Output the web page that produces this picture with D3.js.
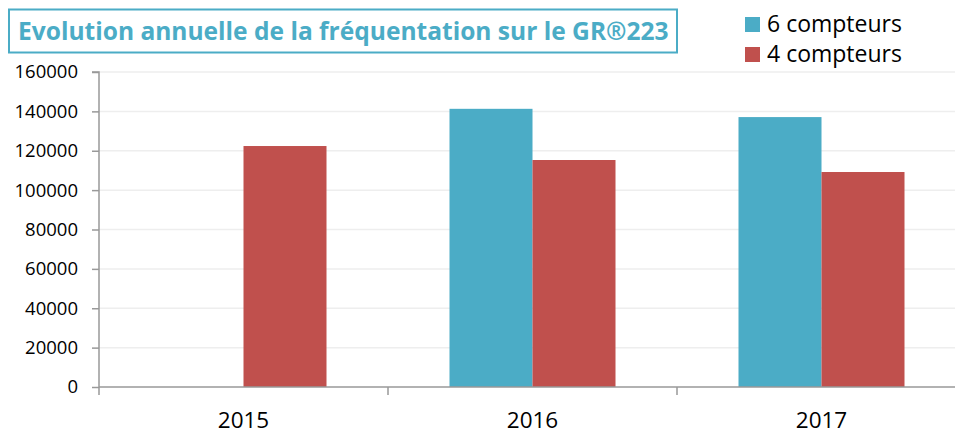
<!DOCTYPE html>
<html lang="fr">
<head>
<meta charset="utf-8">
<title>Evolution annuelle de la fréquentation sur le GR®223</title>
<script src="https://d3js.org/d3.v7.min.js"></script>
<style>
  body { margin: 0; background: #fff; }
  svg { display: block; font-family: "Open Sans", sans-serif; }
</style>
</head>
<body>
<div id="chart"></div>
<script>
// data
const years = ["2015", "2016", "2017"];
const seriesNames = ["6 compteurs", "4 compteurs"];
const sixCounters = [null, 141300, 137100];
const fourCounters = [122400, 115300, 109200];
const yTicks = [0, 20000, 40000, 60000, 80000, 100000, 120000, 140000, 160000];
const colors = ["#4bacc6", "#c0504d"];
const title = "Evolution annuelle de la fréquentation sur le GR®223";

const width = 955, height = 435;
const plotLeft = 99, plotRight = 966, plotTop = 72, plotBottom = 387;

const svg = d3.select("#chart").append("svg")
  .attr("width", width).attr("height", height);

// shrink/grow the font so a text fits a given width
function fitWidth(text, w) {
  const fs = parseFloat(text.attr("font-size"));
  const len = text.node().getComputedTextLength();
  text.attr("font-size", fs * w / len);
}

const x = d3.scaleBand().domain(years).range([plotLeft, plotRight])
  .paddingInner(123 / 289).paddingOuter(61.5 / 289);
const xSub = d3.scaleBand().domain(seriesNames).range([0, x.bandwidth()]);
const y = d3.scaleLinear().domain([0, 160000]).range([plotBottom, plotTop]);

// gridlines
svg.append("g").selectAll("line")
  .data(yTicks.slice(1)).join("line")
  .attr("x1", plotLeft).attr("x2", width)
  .attr("y1", d => y(d)).attr("y2", d => y(d))
  .attr("stroke", "#eeeeee").attr("stroke-width", 1.5);

// bars
const rows = years.map((yr, i) => ({ year: yr, values: [sixCounters[i], fourCounters[i]] }));
const grp = svg.append("g").selectAll("g")
  .data(rows).join("g")
  .attr("transform", d => `translate(${x(d.year)},0)`);
grp.selectAll("rect")
  .data(d => d.values.map((v, i) => ({ v, s: seriesNames[i], c: colors[i] })).filter(d => d.v != null))
  .join("rect")
  .attr("x", d => xSub(d.s))
  .attr("width", xSub.bandwidth())
  .attr("y", d => y(d.v))
  .attr("height", d => y(0) - y(d.v))
  .attr("fill", d => d.c);

// y axis
const yAxis = svg.append("g")
  .attr("transform", `translate(${plotLeft},0)`)
  .call(d3.axisLeft(y).tickValues(yTicks).tickFormat(d3.format("d")).tickSize(7).tickPadding(14));
yAxis.select(".domain").attr("stroke", "#999").attr("stroke-width", 1.5).attr("d", `M-7,${plotTop}H0V${plotBottom}`);
yAxis.selectAll(".tick line").attr("stroke", "#999").attr("stroke-width", 1.5);
yAxis.selectAll("text").attr("font-size", 18.5).attr("fill", "#000")
  .attr("font-family", "'Open Sans', sans-serif");

// x axis
const xAxis = svg.append("g")
  .attr("transform", `translate(0,${plotBottom})`);
xAxis.append("line").attr("x1", plotLeft).attr("x2", width)
  .attr("stroke", "#999").attr("stroke-width", 1.5);
xAxis.selectAll(".cat-tick")
  .data(years.map(d => x(d) - x.step() * x.paddingInner() / 2))
  .join("line")
  .attr("class", "cat-tick")
  .attr("x1", d => d).attr("x2", d => d)
  .attr("y1", 0).attr("y2", 8)
  .attr("stroke", "#999").attr("stroke-width", 1.5);
xAxis.selectAll(".cat-label")
  .data(years).join("text")
  .attr("class", "cat-label")
  .attr("x", d => x(d) + x.bandwidth() / 2)
  .attr("y", 41)
  .attr("text-anchor", "middle")
  .attr("font-size", 22.5)
  .attr("fill", "#000")
  .text(d => d);

// title box
svg.append("rect")
  .attr("x", 9).attr("y", 9.5).attr("width", 668).attr("height", 43)
  .attr("fill", "#fff").attr("stroke", "#4bacc6").attr("stroke-width", 2);
const t = svg.append("text")
  .attr("x", 18).attr("y", 39.5)
  .attr("font-size", 23).attr("font-weight", "bold")
  .attr("fill", "#4bacc6")
  .text(title);
fitWidth(t, 651);

// legend
const leg = svg.append("g").selectAll("g")
  .data(seriesNames).join("g")
  .attr("transform", (d, i) => `translate(745,${17 + i * 30})`);
leg.append("rect").attr("width", 15).attr("height", 15)
  .attr("fill", (d, i) => colors[i]);
leg.append("text")
  .attr("x", 22).attr("y", 15)
  .attr("font-size", 22).attr("fill", "#000")
  .text(d => d)
  .each(function () { fitWidth(d3.select(this), 135); });
</script>
</body>
</html>
